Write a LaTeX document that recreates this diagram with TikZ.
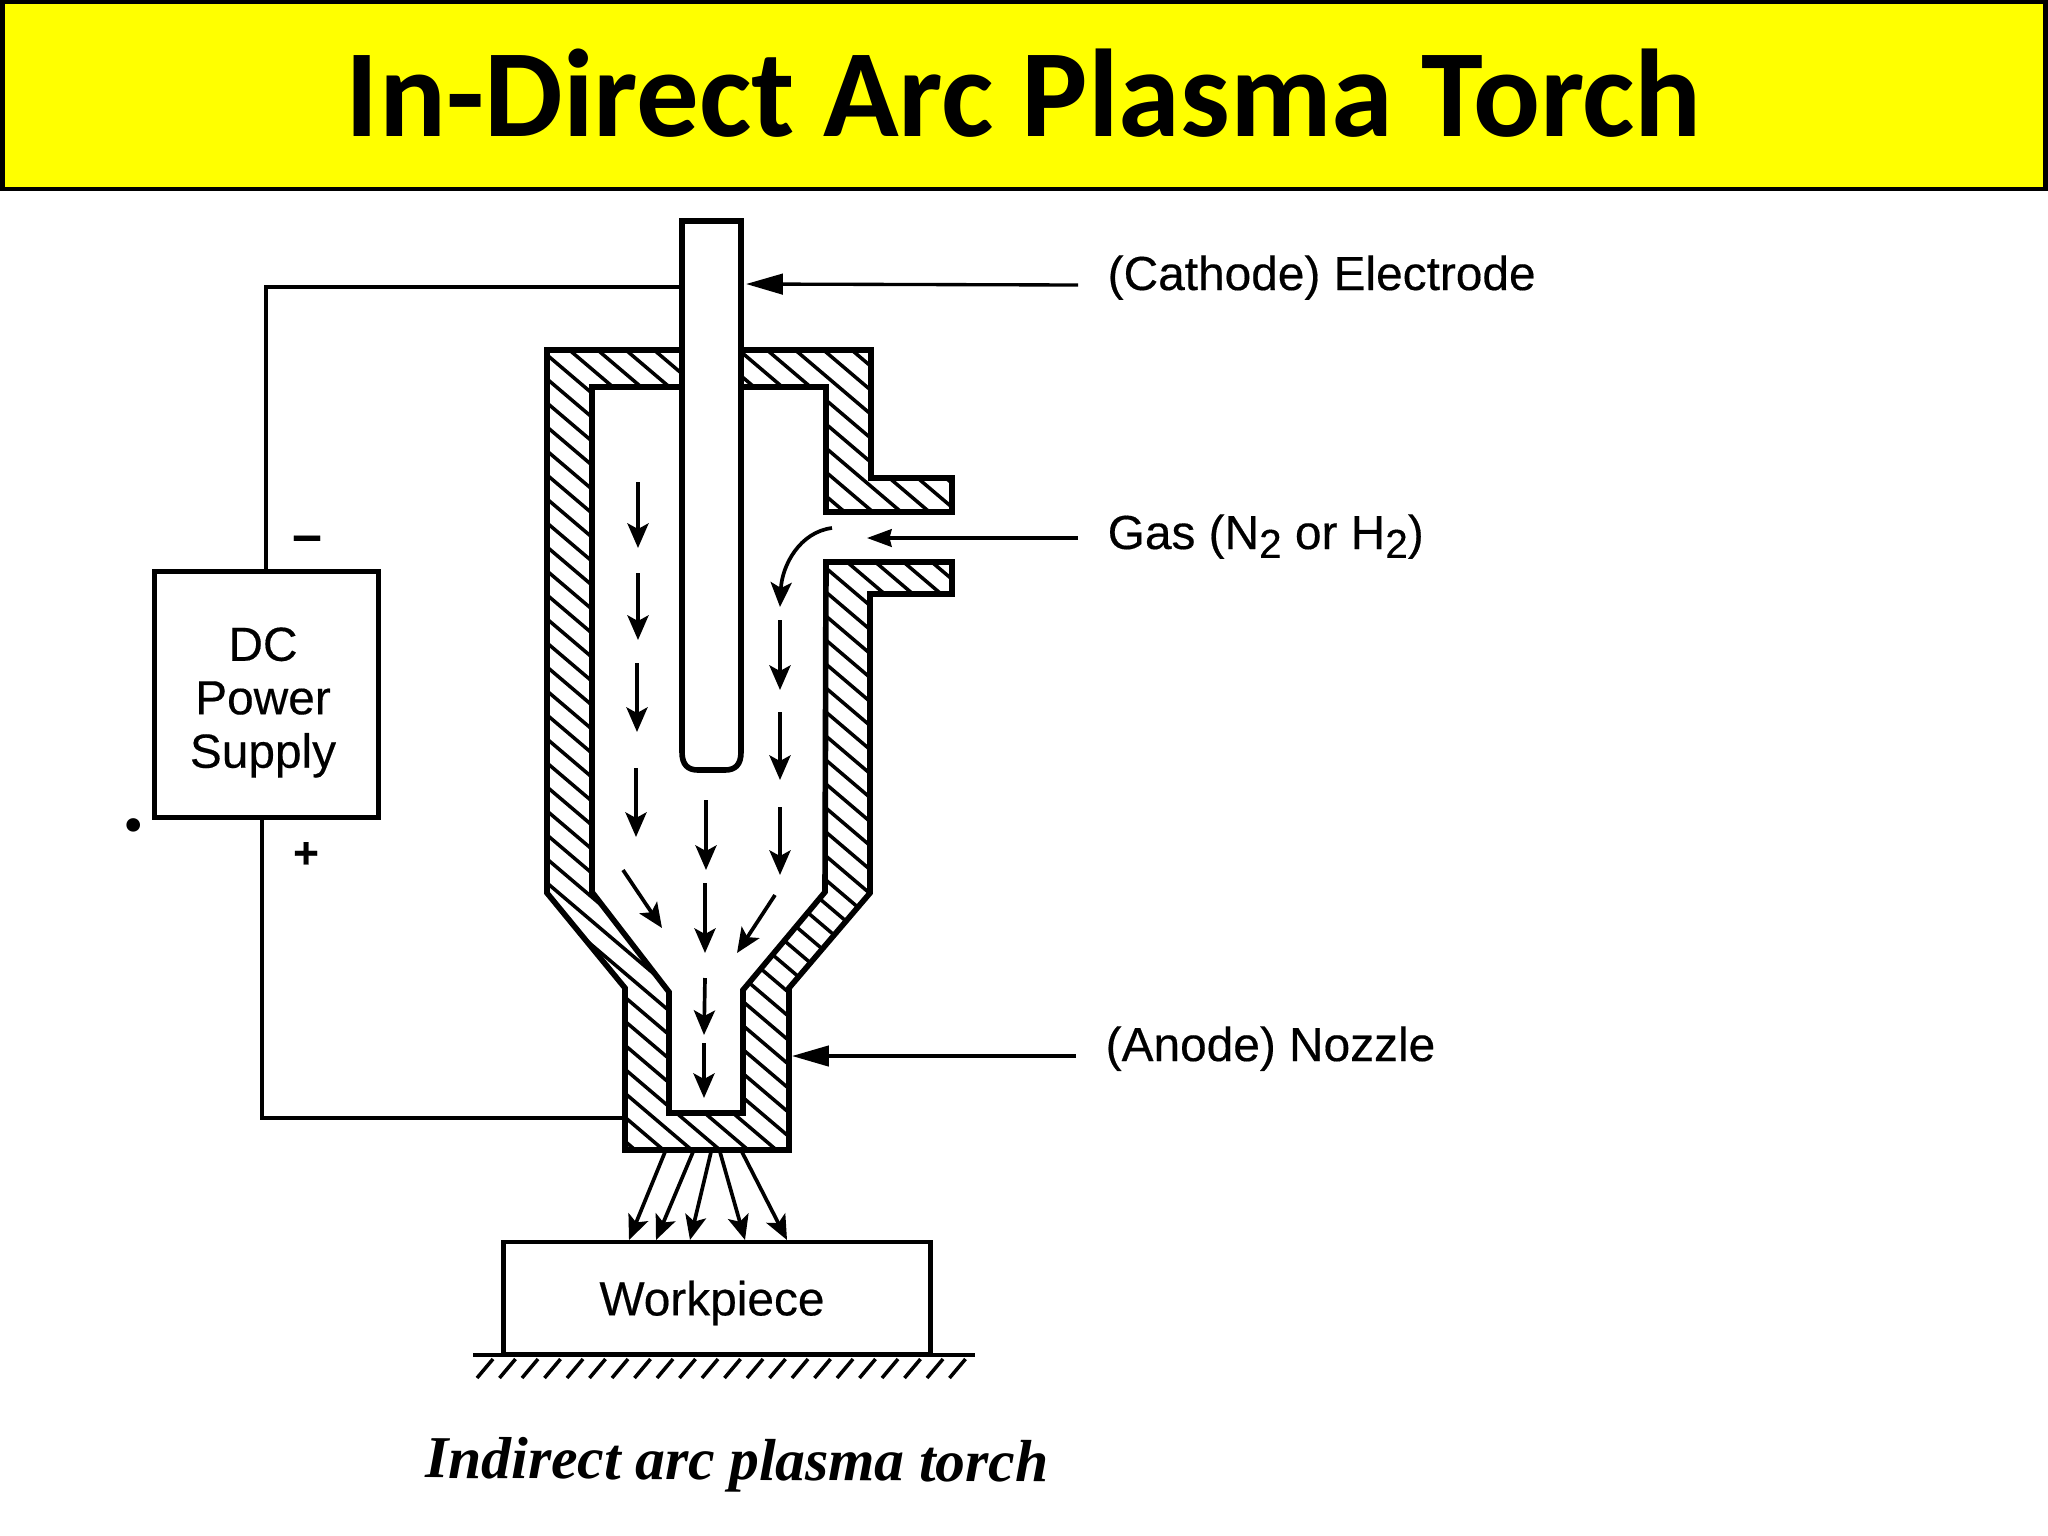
\documentclass[tikz,border=0pt]{standalone}
\usepackage{fontspec}
\setmainfont[FakeBold=0.35]{Liberation Sans}
\newfontfamily\titlefont{Carlito}
\newfontfamily\capfont{Liberation Serif}
\usetikzlibrary{arrows.meta}
\definecolor{bandyellow}{RGB}{255,255,0}
\tikzset{
  x=0.01cm,y=-0.01cm,
  wall/.style={line width=1.6pt,line join=miter,black},
  wire/.style={line width=1.35pt,black},
  hatchline/.style={line width=1.0pt,black},
  flow/.style={line width=1.05pt,black,-{Stealth[length=7pt,width=6pt,inset=1.6pt]}},
  leader/.style={line width=0.95pt,black,-{Stealth[length=7pt,width=5pt,inset=0.6pt]}},
  leaderbig/.style={line width=0.95pt,black,-{Stealth[length=10.5pt,width=5.8pt,inset=0pt]}},
  lab/.style={inner sep=0pt,anchor=base west,font=\fontsize{13.6}{15.2}\selectfont,text=black},
  boxed/.style={draw=black,line width=1.4pt,inner sep=0pt,align=center},
  plain/.style={inner sep=0pt,align=center,font=\fontsize{13.6}{15.2}\selectfont,text=black}
}
\newcommand{\subtwo}{\raisebox{-0.35ex}{\fontsize{11.5}{11.5}\selectfont 2}}
\begin{document}
\begin{tikzpicture}
\useasboundingbox (0,0) rectangle (2048,1536);
% title band
\node[draw=black,line width=1.25pt,fill=bandyellow,minimum width=20.42cm,minimum height=1.87cm,inner sep=0pt] (band) at (1024,95.5) {};
\node[inner sep=0pt,anchor=base,font=\titlefont\bfseries\fontsize{35.5}{40}\selectfont] (title) at (1024,136) {In-Direct Arc Plasma Torch};
% hatching
\begin{scope}
  \clip (741,350) -- (871,350) -- (871,478) -- (952,478) -- (952,512) -- (826,512) -- (826,387) -- (741,387) -- cycle
        (682,350) -- (547,350) -- (547,893) -- (625,988) -- (625,1150) -- (789,1150) -- (789,988) -- (870,893) -- (870,594) -- (952,594) -- (952,562) -- (826,562) -- (825,892) -- (743,990) -- (743,1113) -- (669,1113) -- (669,992) -- (592,892) -- (592,387) -- (682,387) -- cycle;
  \foreach \k in {-25,...,40}
    \draw[hatchline] (400,{350+\k*24}) -- (1000,{350+\k*24+510});
\end{scope}
% body
\draw[wall] (741,350) -- (871,350) -- (871,478) -- (952,478) -- (952,512) -- (826,512) -- (826,387) -- (741,387);
\draw[wall] (682,350) -- (547,350) -- (547,893) -- (625,988) -- (625,1150) -- (789,1150) -- (789,988) -- (870,893) -- (870,594) -- (952,594) -- (952,562) -- (826,562) -- (825,892) -- (743,990) -- (743,1113) -- (669,1113) -- (669,992) -- (592,892) -- (592,387) -- (682,387);
% electrode
\draw[wall] (682,221) -- (682,752) .. controls (682,765) and (688,770) .. (698,770) -- (725,770) .. controls (735,770) and (741,765) .. (741,752) -- (741,221) -- cycle;
\coordinate (elecL) at (682,287);
\coordinate (elecR) at (746,284);
\coordinate (gasTip) at (867,538);
\coordinate (nozL) at (625,1118);
\coordinate (nozR) at (792,1056);
% power supply
\node[boxed,minimum width=2.24cm,minimum height=2.46cm] (dc) at (266.5,694.5) {};
\node[plain] (dctext) at (263,702.5) {DC\\Power\\Supply};
\node[inner sep=0pt,font=\bfseries\fontsize{15}{15}\selectfont,text=black] (minus) at (307,544) {\char"2013};
\node[inner sep=0pt,font=\bfseries\fontsize{12.5}{15}\selectfont,text=black] (plus) at (306,855) {+};
\node[inner sep=0pt,font=\titlefont\bfseries\fontsize{26}{26}\selectfont] (dot) at (134,825) {.};
\coordinate (dcTop) at (266,571);
\coordinate (dcBot) at (262,818);
\draw[wire] (elecL) -- (266,287) -- (dcTop);
\draw[wire] (dcBot) -- (262,1118) -- (nozL);
% labels
\node[lab] (cath) at (1107,290) {(Cathode) Electrode};
\node[lab] (gas) at (1107,549) {Gas (N\subtwo{} or H\subtwo{})};
\node[lab] (anode) at (1105,1061) {(Anode) Nozzle};
\coordinate (cathFrom) at (1078,285);
\coordinate (gasFrom) at (1078,538);
\coordinate (nozFrom) at (1076,1056);
\draw[leaderbig] (cathFrom) -- (elecR);
\draw[leader] (gasFrom) -- (gasTip);
\draw[leaderbig] (nozFrom) -- (nozR);
% flow arrows
\draw[flow] (638,482) -- (638,548);
\draw[flow] (638,573) -- (638,640);
\draw[flow] (637,663) -- (637,732);
\draw[flow] (636,768) -- (636,837);
\draw[flow] (832,528) .. controls (800,532) and (782,565) .. (780,607);
\draw[flow] (780,620) -- (780,690);
\draw[flow] (780,712) -- (780,780);
\draw[flow] (780,807) -- (780,875);
\draw[flow] (706,800) -- (706,870);
\draw[flow] (705,883) -- (705,953);
\draw[flow] (705,978) -- (704,1035);
\draw[flow] (704,1043) -- (704,1098);
\draw[flow] (623,870) -- (662,928);
\draw[flow] (775,895) -- (737,953);
% workpiece
\node[boxed,minimum width=4.27cm,minimum height=1.12cm] (work) at (716.8,1298) {};
\node[plain] (worktext) at (712,1303) {Workpiece};
% jets
\draw[flow] (665,1152) -- (629,1240);
\draw[flow] (693,1152) -- (656,1240);
\draw[flow] (711,1152) -- (690,1240);
\draw[flow] (720,1152) -- (745,1240);
\draw[flow] (742,1152) -- (787,1240);
% ground
\draw[wire] (473,1355) -- (975,1355);
\foreach \k in {0,...,21}
  \draw[hatchline] ({493+\k*22.5},1359) -- ({477+\k*22.5},1378);
% caption
\node[inner sep=0pt,anchor=base,rotate=-0.4,font=\capfont\bfseries\itshape\fontsize{16.9}{18}\selectfont] (cap) at (737,1480) {Indirect arc plasma torch};
\end{tikzpicture}
\end{document}
